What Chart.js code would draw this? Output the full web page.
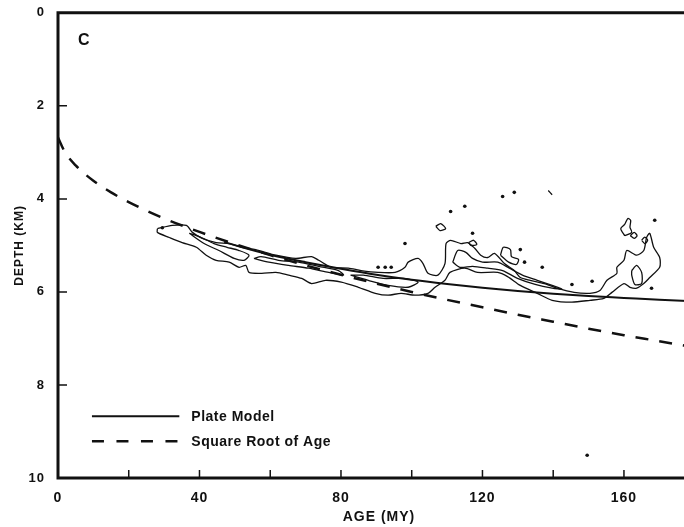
<!DOCTYPE html>
<html><head><meta charset="utf-8">
<script src="https://cdn.jsdelivr.net/npm/chart.js@4.4.1/dist/chart.umd.min.js"></script>
<style>
html,body{margin:0;padding:0;background:#fff;overflow:hidden;}
#wrap{width:704px;height:527px;position:relative;}
</style></head><body>
<div id="wrap"><canvas id="c"></canvas></div>
<script>
// ---- values ----
const plateAge   = [47, 60, 70, 80, 90, 100, 110, 120, 130, 140, 150, 160, 170, 182];
const plateDepth = [4.93, 5.20, 5.36, 5.50, 5.63, 5.74, 5.83, 5.91, 5.98, 6.04, 6.09, 6.13, 6.17, 6.21];

const sqrtAge   = [0, 2, 5, 10, 15, 20, 30, 40, 50, 60, 70, 80, 90, 100, 110, 120, 130, 140, 150, 160, 170, 182];
const sqrtDepth = [2.68, 3.0, 3.28, 3.61, 3.86, 4.07, 4.42, 4.71, 4.97, 5.21, 5.43, 5.63, 5.82, 6.0, 6.17, 6.33, 6.49, 6.64, 6.79, 6.93, 7.06, 7.22];

// contour outlines: [age, depth]
const contourOuter = [
 [28.1,4.64],[32.3,4.57],[36.3,4.57],[38.0,4.72],[40.8,4.85],[44.7,4.94],[48.4,4.96],[52.0,5.04],[55.9,5.09],
 [61.6,5.21],[67.2,5.28],[71.7,5.24],[73.7,5.32],[77.3,5.47],[82.1,5.49],[85.7,5.54],[90.5,5.58],[95.3,5.58],
 [98.1,5.47],[99.0,5.36],[101.8,5.28],[103.2,5.39],[104.6,5.60],[107.4,5.64],[109.4,5.39],[109.7,4.96],
 [111.0,4.89],[113.9,4.96],[115.8,4.94],[117.8,5.06],[119.5,5.21],[121.5,5.26],[123.4,5.17],[126.2,5.39],
 [129.0,5.54],[130.7,5.69],[133.5,5.75],[137.5,5.82],[141.1,5.92],[145.9,6.01],[150.4,6.03],[153.2,5.97],
 [155.2,5.75],[158.0,5.60],[158.0,5.47],[160.0,5.32],[160.8,5.11],[163.6,5.21],[165.6,5.11],[166.4,4.83],
 [167.3,4.74],[168.4,5.04],[170.1,5.26],[170.1,5.47],[167.3,5.69],[165.6,5.82],[163.6,5.92],[161.7,5.90],
 [160.0,5.82],[156.6,6.01],[154.3,6.14],[150.4,6.18],[145.3,6.22],[139.7,6.18],[135.5,6.03],[130.7,5.86],
 [127.1,5.67],[124.3,5.58],[118.6,5.58],[115.0,5.49],[110.8,5.58],[109.4,5.75],[106.6,5.90],[104.6,6.03],
 [100.9,6.07],[97.0,6.03],[93.3,6.07],[89.7,6.03],[84.9,5.90],[80.1,5.79],[75.6,5.75],[71.7,5.82],[68.9,5.71],
 [65.2,5.64],[61.6,5.58],[57.6,5.60],[54.0,5.58],[53.1,5.43],[51.2,5.47],[48.4,5.36],[44.7,5.32],[41.9,5.21],
 [39.1,5.04],[35.1,4.94],[31.5,4.83],[28.1,4.72],[28.1,4.64]
];
const contourInnerA = [[37.1,4.74],[41.3,4.96],[45.5,5.11],[49.8,5.28],[52.6,5.32],[54.0,5.21],[51.2,5.11],[47.8,5.04],[44.1,4.96],[39.9,4.81],[37.1,4.74]];
const contourInnerB = [[55.4,5.28],[59.6,5.36],[65.2,5.43],[70.8,5.49],[76.5,5.58],[80.7,5.64],[79.3,5.54],[73.7,5.45],[68.0,5.36],[62.4,5.32],[57.4,5.24],[55.4,5.28]];
const contourInnerC = [[82.7,5.64],[87.7,5.75],[93.3,5.86],[99.0,5.90],[101.8,5.79],[97.6,5.71],[91.9,5.71],[86.3,5.64],[82.7,5.64]];
const contourInnerD = [[111.6,5.36],[113.0,5.11],[115.3,5.15],[117.2,5.28],[120.0,5.36],[124.3,5.36],[127.6,5.49],[131.3,5.64],[135.5,5.75],[139.7,5.86],[142.5,5.94],[139.7,5.92],[134.9,5.84],[129.9,5.71],[125.7,5.54],[121.5,5.49],[117.2,5.45],[113.6,5.47],[111.6,5.36]];
const contourHook   = [[125.1,5.21],[125.9,5.04],[127.9,5.09],[128.2,5.24],[130.2,5.30],[129.6,5.41],[127.4,5.36],[125.1,5.21]];
const contourBlobA  = [[106.8,4.59],[108.2,4.53],[109.6,4.64],[108.0,4.68],[106.8,4.59]];
const contourBlobB  = [[116.1,4.94],[117.5,4.89],[118.4,4.98],[116.7,5.00],[116.1,4.94]];
const contourRightIn = [[162.2,5.54],[163.6,5.43],[165.0,5.58],[165.0,5.82],[163.1,5.84],[162.2,5.64],[162.2,5.54]];
const contourDrop   = [[160.2,4.79],[159.1,4.64],[160.2,4.55],[161.1,4.42],[161.9,4.46],[161.7,4.61],[162.2,4.72],[160.2,4.79]];
const contourRingA  = [[161.8,4.79],[162.9,4.72],[163.7,4.79],[162.9,4.85],[161.8,4.79]];
const contourRingB  = [[165.0,4.89],[165.9,4.82],[166.7,4.89],[165.9,4.96],[165.0,4.89]];
const contourArc    = [[138.6,3.82],[139.7,3.91]];

const dotAge   = [98.1, 111.0, 115.0, 125.7, 129.0, 117.2, 130.7, 131.9, 136.9, 145.3, 151.0, 168.7, 167.8, 90.5, 92.5, 94.2, 149.6, 29.5];
const dotDepth = [4.96, 4.27, 4.16, 3.95, 3.86, 4.74, 5.09, 5.36, 5.47, 5.84, 5.77, 4.46, 5.92, 5.47, 5.47, 5.47, 9.51, 4.62];

const xLabelTicks = [0, 40, 80, 120, 160];
const xMarkTicks  = [20, 40, 60, 80, 100, 120, 140, 160];
const yLabelTicks = [0, 2, 4, 6, 8, 10];
const yMarkTicks  = [2, 4, 6, 8];

const legendLabels = ['Plate Model', 'Square Root of Age'];
const panelLetter = 'C';

// ---- chart ----
const INK = '#111';
const FONT = '"Liberation Sans", Arial, sans-serif';
const toXY = arr => arr.map(p => ({x: p[0], y: p[1]}));
const zip = (a, b) => a.map((v, i) => ({x: v, y: b[i]}));

function contourSet(arr) {
  return {type: 'scatter', data: toXY(arr), showLine: true, borderColor: INK, borderWidth: 1.3,
          pointRadius: 0, fill: false, tension: 0.25, order: 3};
}

const framePlugin = {
  id: 'frame',
  beforeDraw(chart) { chart.ctx.letterSpacing = '1px'; },
  afterDraw(chart) {
    const {ctx, chartArea: a, scales: {x, y}} = chart;
    ctx.save();
    ctx.strokeStyle = INK; ctx.lineCap = 'square';
    ctx.lineWidth = 3;
    ctx.beginPath();
    ctx.moveTo(a.left, a.bottom); ctx.lineTo(a.left, a.top); ctx.lineTo(a.right, a.top);
    ctx.moveTo(a.left, a.bottom); ctx.lineTo(a.right, a.bottom);
    ctx.stroke();
    ctx.lineWidth = 1.5; ctx.lineCap = 'butt';
    ctx.beginPath();
    xMarkTicks.forEach(v => { const px = x.getPixelForValue(v); ctx.moveTo(px, a.bottom); ctx.lineTo(px, a.bottom - 8); });
    yMarkTicks.forEach(v => { const py = y.getPixelForValue(v); ctx.moveTo(a.left, py); ctx.lineTo(a.left + 9, py); });
    ctx.stroke();
    // panel letter
    ctx.fillStyle = INK; ctx.letterSpacing = '0px';
    ctx.font = 'bold 16px ' + FONT; ctx.textBaseline = 'middle'; ctx.textAlign = 'center';
    ctx.fillText(panelLetter, x.getPixelForValue(7.3), y.getPixelForValue(0.6));
    // legend
    ctx.textAlign = 'left';
    const lx0 = x.getPixelForValue(9.6), lx1 = x.getPixelForValue(34.3), tx = x.getPixelForValue(37.7);
    const ly = [y.getPixelForValue(8.67), y.getPixelForValue(9.21)];
    ctx.lineWidth = 2;
    ctx.beginPath(); ctx.setLineDash([]); ctx.moveTo(lx0, ly[0]); ctx.lineTo(lx1, ly[0]); ctx.stroke();
    ctx.lineWidth = 2.5;
    ctx.beginPath(); ctx.setLineDash([12, 12.5]); ctx.moveTo(lx0, ly[1]); ctx.lineTo(lx1 + 1, ly[1]); ctx.stroke();
    ctx.setLineDash([]);
    ctx.font = 'bold 14px ' + FONT; ctx.letterSpacing = '0.5px';
    legendLabels.forEach((t, i) => ctx.fillText(t, tx, ly[i] + 1));
    ctx.restore();
  }
};

new Chart(document.getElementById('c'), {
  type: 'scatter',
  data: {
    datasets: [
      {data: zip(plateAge, plateDepth), showLine: true, borderColor: INK, borderWidth: 2, pointRadius: 0, cubicInterpolationMode: 'monotone', order: 1},
      {data: zip(sqrtAge, sqrtDepth), showLine: true, borderColor: INK, borderWidth: 2.5, borderDash: [13, 11], pointRadius: 0, cubicInterpolationMode: 'monotone', order: 2},
      contourSet(contourOuter), contourSet(contourInnerA), contourSet(contourInnerB), contourSet(contourInnerC),
      contourSet(contourInnerD), contourSet(contourHook), contourSet(contourBlobA), contourSet(contourBlobB),
      contourSet(contourRightIn), contourSet(contourDrop), contourSet(contourRingA), contourSet(contourRingB),
      contourSet(contourArc),
      {data: zip(dotAge, dotDepth), showLine: false, pointRadius: 1.8, pointBackgroundColor: INK, pointBorderWidth: 0, order: 4}
    ]
  },
  options: {
    responsive: true, maintainAspectRatio: false, animation: false,
    layout: {padding: {top: 12, right: 0, left: 0, bottom: 0}},
    plugins: {legend: {display: false}, tooltip: {enabled: false}},
    scales: {
      x: {
        type: 'linear', min: 0, max: 181.5,
        afterBuildTicks: s => { s.ticks = xLabelTicks.map(v => ({value: v})); },
        afterFit: s => { s.height = 49; },
        grid: {display: false}, border: {display: false},
        ticks: {color: INK, font: {family: FONT, size: 14, weight: 'bold'}, padding: 4, maxRotation: 0, autoSkip: false},
        title: {display: true, text: 'AGE (MY)', color: INK, font: {family: FONT, size: 14, weight: 'bold'}, padding: {top: 0, bottom: 1}}
      },
      y: {
        type: 'linear', min: 0, max: 10, reverse: true,
        afterBuildTicks: s => { s.ticks = yLabelTicks.map(v => ({value: v})); },
        afterFit: s => { s.width = 58; },
        grid: {display: false}, border: {display: false},
        ticks: {color: INK, font: {family: FONT, size: 13, weight: 'bold'}, padding: 5, autoSkip: false},
        title: {display: true, text: 'DEPTH (KM)', color: INK, font: {family: FONT, size: 12, weight: 'bold'}, padding: {top: 12, bottom: 0}}
      }
    }
  },
  plugins: [framePlugin]
});
</script>
</body></html>
